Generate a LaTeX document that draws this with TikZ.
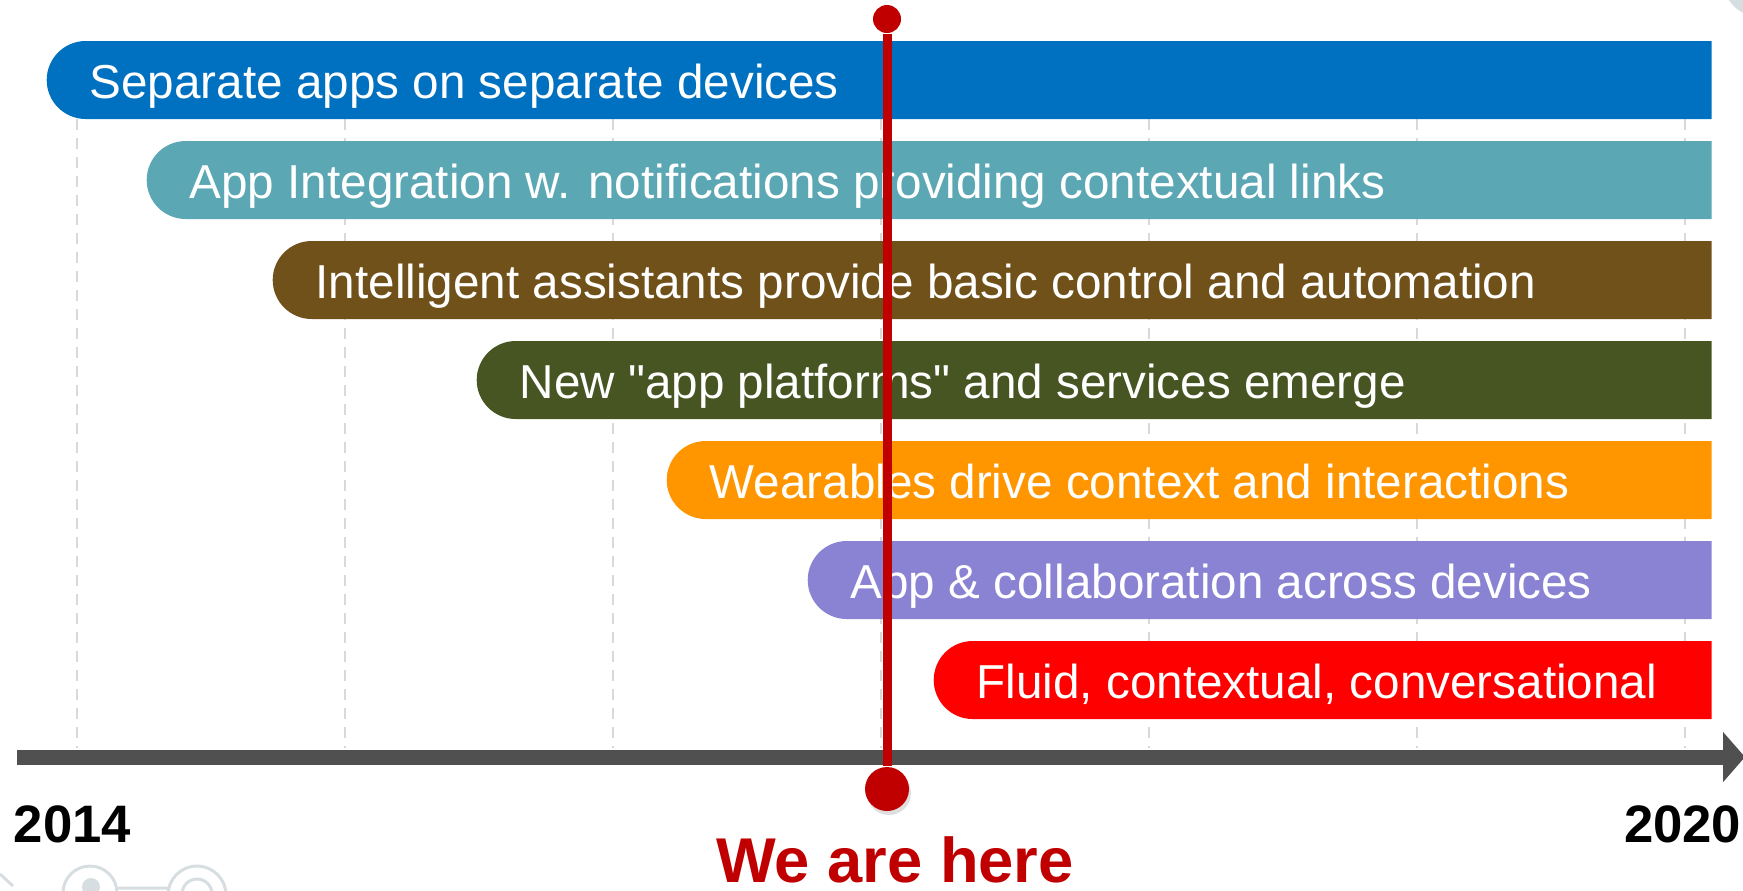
\documentclass[tikz,border=0pt]{standalone}
\usepackage{fontspec}
\setmainfont{Liberation Sans}[Ligatures=TeXOff]
\usetikzlibrary{arrows.meta,shapes.misc,shadows}

\definecolor{cblue}{RGB}{0,112,192}
\definecolor{cteal}{RGB}{91,168,180}
\definecolor{cbrown}{RGB}{113,81,26}
\definecolor{cgreen}{RGB}{70,85,34}
\definecolor{corange}{RGB}{255,150,0}
\definecolor{cpurple}{RGB}{138,130,210}
\definecolor{cred}{RGB}{255,0,0}
\definecolor{markred}{RGB}{192,0,0}
\definecolor{axisgray}{RGB}{80,80,80}
\definecolor{gridgray}{RGB}{217,217,217}
\definecolor{faintgray}{RGB}{214,222,226}

\begin{document}
\begin{tikzpicture}[x=0.1mm,y=-0.1mm,
        bar/.style={rounded rectangle,rounded rectangle east arc=none,
          anchor=west,inner sep=0pt,minimum height=7.8mm},
        lbl/.style={anchor=base west,xshift=4.3mm,yshift=-1.8mm,inner sep=0pt,
          text=white,font=\fontsize{13.55}{16}\selectfont},
        year/.style={inner sep=0pt,font=\fontsize{15}{18}\selectfont\bfseries},
        gridline/.style={draw=gridgray,line width=0.2mm,dash pattern=on 1.1mm off 0.8mm},
        timeaxis/.style={draw=axisgray,line width=1.5mm,
          -{Triangle[width=4.9mm,length=2.2mm]}},
        reddot/.style={circle,fill=markred,inner sep=0pt}]
        \useasboundingbox (0,0) rectangle (1743,890);

        % dashed year lines
        \draw[gridline] (77,119) -- (77,748)   (345,119) -- (345,748)
              (613,119) -- (613,748)  (881,119) -- (881,748)
              (1149,119) -- (1149,748) (1417,119) -- (1417,748)
              (1685,119) -- (1685,748);

        \coordinate (t_0) at (17,757);
        \coordinate (t_1) at (1745,757);
        \draw[timeaxis] (t_0) -- (t_1);

        \node[bar,fill=cblue,minimum width=166.5mm]   (b_1) at (46,80)  {};
        \node[bar,fill=cteal,minimum width=156.5mm]   (b_2) at (146,180) {};
        \node[bar,fill=cbrown,minimum width=143.9mm]  (b_3) at (272,280) {};
        \node[bar,fill=cgreen,minimum width=123.5mm]  (b_4) at (476,380) {};
        \node[bar,fill=corange,minimum width=104.5mm] (b_5) at (666,480) {};
        \node[bar,fill=cpurple,minimum width=90.4mm]  (b_6) at (807,580) {};
        \node[bar,fill=cred,minimum width=77.8mm]     (b_7) at (933,680) {};

        \node[lbl] (l_1) at (b_1.west) {Separate apps on separate devices};
        \node[lbl] (l_2) at (b_2.west) {App Integration w. notifications providing contextual links};
        \node[lbl] (l_3) at (b_3.west) {Intelligent assistants provide basic control and automation};
        \node[lbl] (l_4) at (b_4.west) {New "app platforms" and services emerge};
        \node[lbl] (l_5) at (b_5.west) {Wearables drive context and interactions};
        \node[lbl] (l_6) at (b_6.west) {App \& collaboration across devices};
        \node[lbl] (l_7) at (b_7.west) {Fluid, contextual, conversational};

        % we are here
        \node[reddot,minimum size=2.8mm] (top) at (887,19) {};
        \node[reddot,minimum size=4.4mm,
          drop shadow={opacity=0.25,shadow xshift=0.2mm,shadow yshift=-0.4mm}]
          (now) at (887,789) {};
        \draw[markred,line width=0.9mm] (top) -- (now);

        \node[year,anchor=base west] (y_0) at (13,842)   {2014};
        \node[year,anchor=base east] (y_1) at (1742,842) {2020};
        \node[inner sep=0pt,anchor=base,text=markred,
          font=\fontsize{18}{21}\selectfont\bfseries] (here) at (895,882) {We are here};

        % faint logo bits
        \draw[faintgray,line width=0.3mm] (90,893) circle (27) (197,895) circle (29)
              (197,894) circle (15) (118,888) -- (168,888) (0,874) -- (13,886);
        \fill[faintgray] (91,887) circle (9) (1760,-20) circle (37);
    \end{tikzpicture}
\end{document}
